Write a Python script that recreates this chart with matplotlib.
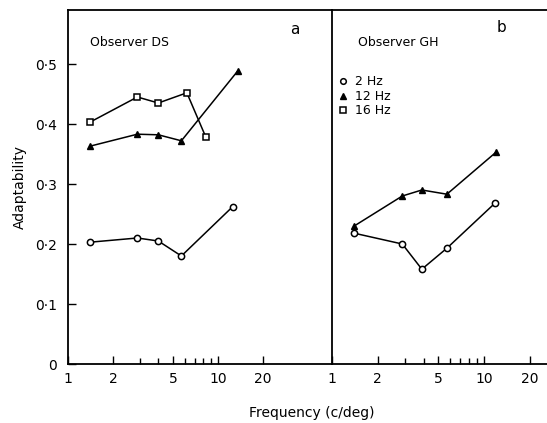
import matplotlib
matplotlib.use("Agg")
import matplotlib.pyplot as plt
from matplotlib.ticker import FixedLocator, NullFormatter, FixedFormatter
import numpy as np

# Observer DS (panel a)
ds_f_2hz = [1.4, 2.9, 4.0, 5.7, 12.5]
ds_v_2hz = [0.203, 0.210, 0.205, 0.180, 0.262]
ds_f_12hz = [1.4, 2.9, 4.0, 5.7, 13.5]
ds_v_12hz = [0.363, 0.383, 0.382, 0.372, 0.488]
ds_f_16hz = [1.4, 2.9, 4.0, 6.2, 8.3]
ds_v_16hz = [0.403, 0.445, 0.435, 0.452, 0.378]

# Observer GH (panel b)
gh_f_2hz = [1.4, 2.9, 3.9, 5.7, 11.8]
gh_v_2hz = [0.218, 0.200, 0.158, 0.193, 0.268]
gh_f_12hz = [1.4, 2.9, 3.9, 5.7, 12.0]
gh_v_12hz = [0.230, 0.280, 0.290, 0.283, 0.353]

y_ticks = [0, 0.1, 0.2, 0.3, 0.4, 0.5]
y_labels = ["0", "0·1", "0·2", "0·3", "0·4", "0·5"]
x_ticks = [1, 2, 5, 10, 20]
x_labels = ["1", "2", "5", "10", "20"]
legend_labels = ["2 Hz", "12 Hz", "16 Hz"]

W, H = 547, 423
fig = plt.figure(figsize=(W / 100, H / 100), dpi=100)
plt.rcParams['font.family'] = ['DejaVu Sans']

left, div, right = 68 / W, 332 / W, 1.0
bottom, top = 1 - 364 / H, 1 - 10 / H
axa = fig.add_axes([left, bottom, div - left, top - bottom])
axb = fig.add_axes([div, bottom, right - div, top - bottom])

ymax = 0.59
mk = dict(color='black', lw=1.1, mfc='white', mec='black', mew=1.1)

la1, = axa.plot(ds_f_2hz, ds_v_2hz, marker='o', ms=4.5, **mk)
la2, = axa.plot(ds_f_12hz, ds_v_12hz, marker='^', ms=5, color='black', lw=1.1, mfc='black', mec='black')
la3, = axa.plot(ds_f_16hz, ds_v_16hz, marker='s', ms=4.5, **mk)

axb.plot(gh_f_2hz, gh_v_2hz, marker='o', ms=4.5, **mk)
axb.plot(gh_f_12hz, gh_v_12hz, marker='^', ms=5, color='black', lw=1.1, mfc='black', mec='black')

minor = [3, 4, 6, 7, 8, 9]
for ax, xmax in ((axa, 10 ** ((332 - 68) / 150)), (axb, 10 ** ((547 - 332) / 152))):
    ax.set_xscale('log')
    ax.set_xlim(1, xmax)
    ax.set_ylim(0, ymax)
    ax.xaxis.set_major_locator(FixedLocator(x_ticks))
    ax.xaxis.set_major_formatter(FixedFormatter(x_labels))
    ax.xaxis.set_minor_locator(FixedLocator(minor))
    ax.xaxis.set_minor_formatter(NullFormatter())
    ax.tick_params(axis='x', which='major', direction='in', length=6, width=1, labelsize=10, pad=6)
    ax.tick_params(axis='x', which='minor', direction='in', length=4, width=1)
    for s in ax.spines.values():
        s.set_linewidth(1.3)
    ax.spines['right'].set_visible(False)

axa.set_yticks(y_ticks)
axa.set_yticklabels(y_labels)
axa.tick_params(axis='y', direction='in', length=6, width=1, labelsize=10, pad=8)
axb.set_yticks([])

fig.text(90 / W, 1 - 43 / H, 'Observer DS', fontsize=9, va='center', ha='left')
fig.text(358 / W, 1 - 43 / H, 'Observer GH', fontsize=9, va='center', ha='left')
fig.text(295 / W, 1 - 29 / H, 'a', fontsize=11, va='center', ha='center')
fig.text(501 / W, 1 - 28 / H, 'b', fontsize=11, va='center', ha='center')

axb.legend([la1, la2, la3], legend_labels, loc='upper left',
           bbox_to_anchor=(0.01, 0.84), frameon=False, fontsize=9,
           handlelength=0, handletextpad=1.0, labelspacing=0.12,
           markerscale=0.9, borderaxespad=0.3)

fig.text(20 / W, 1 - 187 / H, 'Adaptability', rotation=90, fontsize=10,
         va='center', ha='center')
fig.text(312 / W, 1 - 413 / H, 'Frequency (c/deg)', fontsize=10,
         va='center', ha='center')

fig.savefig('out.png', dpi=100)
